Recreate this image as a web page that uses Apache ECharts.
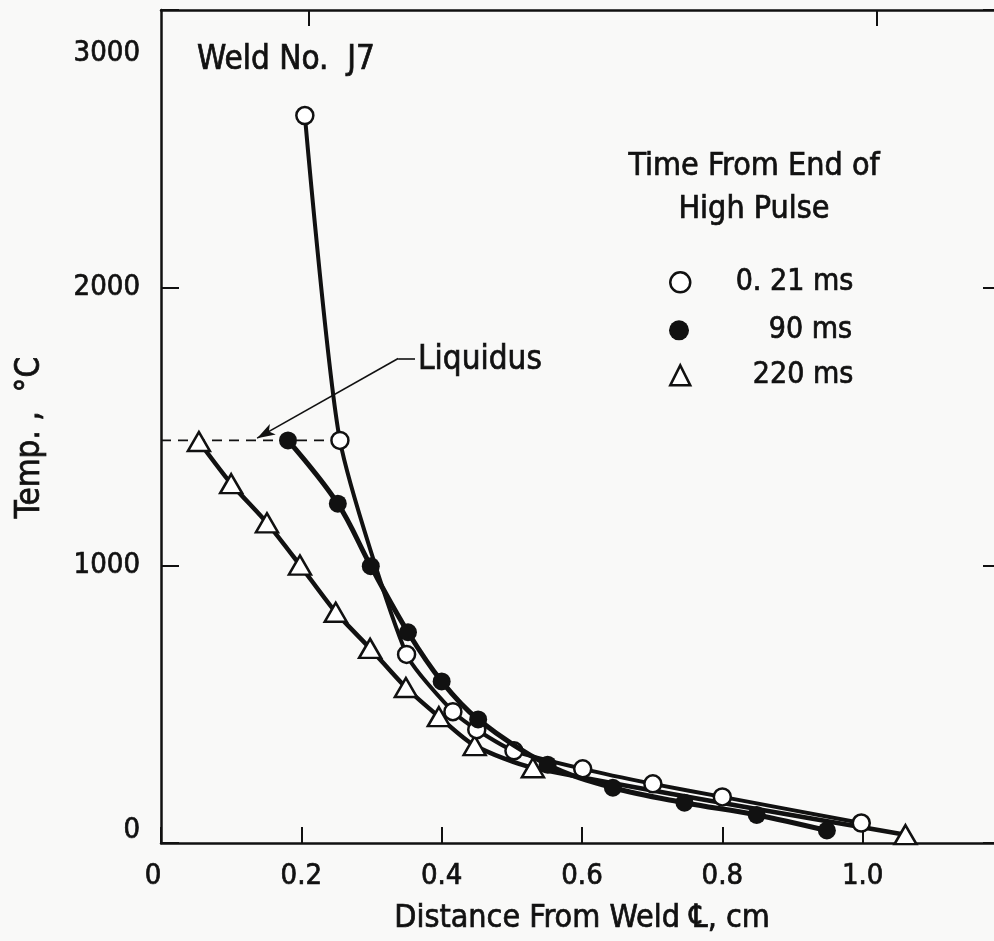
<!DOCTYPE html>
<html>
<head>
<meta charset="utf-8">
<script src="https://cdn.jsdelivr.net/npm/echarts@6/dist/echarts.min.js"></script>
<style>
  html, body { margin: 0; padding: 0; background: #f9f9f8; }
  #chart { width: 994px; height: 941px; }
</style>
</head>
<body>
<div id="chart"></div>
<script>
// ---- Data ----
const seriesNames = ['0.21 ms', '90 ms', '220 ms'];
const xOpen   = [0.205, 0.255, 0.350, 0.416, 0.450, 0.503, 0.601, 0.701, 0.800, 0.998];
const tOpen   = [2620, 1450, 679, 473, 408, 332, 267, 213, 166, 72];
const xFilled = [0.181, 0.252, 0.299, 0.352, 0.400, 0.452, 0.551, 0.644, 0.746, 0.849, 0.949];
const tFilled = [1450, 1222, 997, 759, 582, 445, 282, 199, 145, 101, 45];
const xTri    = [0.054, 0.100, 0.151, 0.198, 0.249, 0.298, 0.349, 0.396, 0.447, 0.530, 1.061];
const tTri    = [1446, 1294, 1153, 1001, 831, 701, 560, 455, 351, 271, 30];
// liquidus reference line and its leader
const liqX = [0, 0.255];
const liqT = [1450, 1450];
const leaderX = [0.362, 0.338, 0.137];
const leaderT = [1745, 1745, 1458];
const xTickLabels = ['0', '0.2', '0.4', '0.6', '0.8', '1.0'];
const yTickLabels = ['0', '1000', '2000', '3000'];

const FONT = '"DejaVu Sans Condensed", "DejaVu Sans", sans-serif';
const INK = '#111';
const TB = { textBorderColor: INK, textBorderWidth: 0.7 };
const zip = (xs, ys) => xs.map((x, i) => [x, ys[i]]);

const chart = echarts.init(document.getElementById('chart'));

const legendCommon = {
  orient: 'vertical',
  left: 664,
  padding: 5,
  itemWidth: 20,
  itemHeight: 20,
  selectedMode: false,
  formatter: n => '{r|' + n.replace('0.21', '0. 21') + '}',
  textStyle: {
    rich: { r: Object.assign({ width: 158, align: 'right', fontFamily: FONT, fontSize: 30, color: INK }, TB) }
  }
};

const option = {
  backgroundColor: '#f9f9f8',
  animation: false,
  grid: { left: 161, right: -9, top: 10, bottom: 98, containLabel: false, outerBoundsMode: 'none' },
  xAxis: [{
    type: 'value', min: 0, max: 1.2, interval: 0.2, position: 'bottom',
    name: 'Distance From Weld \u2104, cm', nameLocation: 'middle', nameGap: 60,
    nameTextStyle: Object.assign({ fontFamily: FONT, fontSize: 32, color: INK }, TB),
    axisLine: { show: true, onZero: false, lineStyle: { color: INK, width: 2.5 } },
    axisTick: { show: true, inside: true, length: 16, lineStyle: { color: INK, width: 2 } },
    axisLabel: Object.assign({
      fontFamily: FONT, fontSize: 29, color: INK, margin: 19,
      formatter: v => {
        const i = Math.round(v / 0.2);
        if (i >= xTickLabels.length || Math.abs(v - i * 0.2) > 1e-6) return '';
        return i === 0 ? '{z|' + xTickLabels[i] + '}' : xTickLabels[i];
      },
      rich: { z: Object.assign({ fontFamily: FONT, fontSize: 29, color: INK, padding: [0, 16, 0, 0] }, TB) }
    }, TB),
    splitLine: { show: false }
  }, {
    type: 'value', min: 0, max: 1.2, interval: 0.2, position: 'top',
    axisLine: { show: true, onZero: false, lineStyle: { color: INK, width: 2.5 } },
    axisTick: { show: true, inside: true, length: 16, customValues: [0.21, 1.02], lineStyle: { color: INK, width: 2 } },
    axisLabel: { show: false },
    splitLine: { show: false }
  }],
  yAxis: [{
    type: 'value', min: 0, max: 3000, interval: 1000, position: 'left',
    name: 'Temp. ,  \u00B0C', nameLocation: 'middle', nameGap: 114, nameRotate: 90,
    nameTextStyle: Object.assign({ fontFamily: FONT, fontSize: 33, color: INK, padding: [0, 22, 0, 0] }, TB),
    axisLine: { show: true, onZero: false, lineStyle: { color: INK, width: 2.5 } },
    axisTick: { show: true, inside: true, length: 18, lineStyle: { color: INK, width: 2 } },
    axisLabel: Object.assign({
      fontFamily: FONT, fontSize: 29, color: INK, margin: 21,
      formatter: v => {
        const s = yTickLabels[Math.round(v / 1000)];
        if (v === 3000) return '{t|' + s + '}';
        if (v === 0) return '{z|' + s + '}';
        return s;
      },
      rich: {
        t: Object.assign({ fontFamily: FONT, fontSize: 29, color: INK, padding: [86, 0, 0, 0] }, TB),
        z: Object.assign({ fontFamily: FONT, fontSize: 29, color: INK, padding: [0, 0, 26, 0] }, TB)
      }
    }, TB),
    splitLine: { show: false }
  }, {
    type: 'value', min: 0, max: 3000, interval: 1000, position: 'right',
    axisLine: { show: true, onZero: false, lineStyle: { color: INK, width: 2.5 } },
    axisTick: { show: true, inside: true, length: 20, lineStyle: { color: INK, width: 2 } },
    axisLabel: { show: false },
    splitLine: { show: false }
  }],
  legend: [
    Object.assign({}, legendCommon, { top: 262, data: [{ name: seriesNames[0], icon: 'circle', itemStyle: { color: '#fff', borderColor: INK, borderWidth: 2.5 } }] }),
    Object.assign({}, legendCommon, { top: 310, data: [{ name: seriesNames[1], icon: 'circle', itemStyle: { color: INK, borderColor: INK, borderWidth: 0 } }] }),
    Object.assign({}, legendCommon, { top: 355, data: [{ name: seriesNames[2], icon: 'triangle', itemStyle: { color: '#fff', borderColor: INK, borderWidth: 2.5 } }] })
  ],
  graphic: [
    { type: 'text', x: 197, y: 60, style: Object.assign({ text: 'Weld No.  J7', font: '33px ' + FONT, fill: INK, stroke: INK, lineWidth: 0.7, textVerticalAlign: 'middle' }) },
    { type: 'text', x: 418, y: 360, style: { text: 'Liquidus', font: '33px ' + FONT, fill: INK, stroke: INK, lineWidth: 0.7, textVerticalAlign: 'middle' } },
    { type: 'text', x: 754, y: 167, style: { text: 'Time From End of', font: '32px ' + FONT, fill: INK, stroke: INK, lineWidth: 0.7, textAlign: 'center', textVerticalAlign: 'middle' } },
    { type: 'text', x: 754, y: 210, style: { text: 'High Pulse', font: '32px ' + FONT, fill: INK, stroke: INK, lineWidth: 0.7, textAlign: 'center', textVerticalAlign: 'middle' } }
  ],
  series: [
    {
      name: 'liquidus', type: 'line', data: zip(liqX, liqT), symbol: 'none', silent: true,
      lineStyle: { color: INK, width: 1.8, type: [10, 7] }, z: 1,
      markLine: {
        silent: true, animation: false,
        label: { show: false },
        lineStyle: { color: INK, width: 1.6, type: 'solid' },
        data: [
          [{ coord: [leaderX[0], leaderT[0]], symbol: 'none' }, { coord: [leaderX[1], leaderT[1]], symbol: 'none' }],
          [{ coord: [leaderX[1], leaderT[1]], symbol: 'none' }, { coord: [leaderX[2], leaderT[2]], symbol: 'arrow', symbolSize: [9, 18] }]
        ]
      }
    },
    {
      name: seriesNames[0], type: 'line', data: zip(xOpen, tOpen), smooth: 0.2,
      symbol: 'circle', symbolSize: 17,
      itemStyle: { color: '#fff', borderColor: INK, borderWidth: 2.5 },
      lineStyle: { color: INK, width: 4 }, z: 3
    },
    {
      name: seriesNames[1], type: 'line', data: zip(xFilled, tFilled), smooth: 0.35,
      symbol: 'circle', symbolSize: 18,
      itemStyle: { color: INK, borderColor: INK, borderWidth: 0 },
      lineStyle: { color: INK, width: 5 }, z: 4
    },
    {
      name: seriesNames[2], type: 'line', data: zip(xTri, tTri), smooth: 0.25,
      symbol: 'triangle', symbolSize: [22, 19],
      itemStyle: { color: '#fff', borderColor: INK, borderWidth: 2.5 },
      lineStyle: { color: INK, width: 4.5 }, z: 2
    }
  ]
};

chart.setOption(option);
</script>
</body>
</html>
